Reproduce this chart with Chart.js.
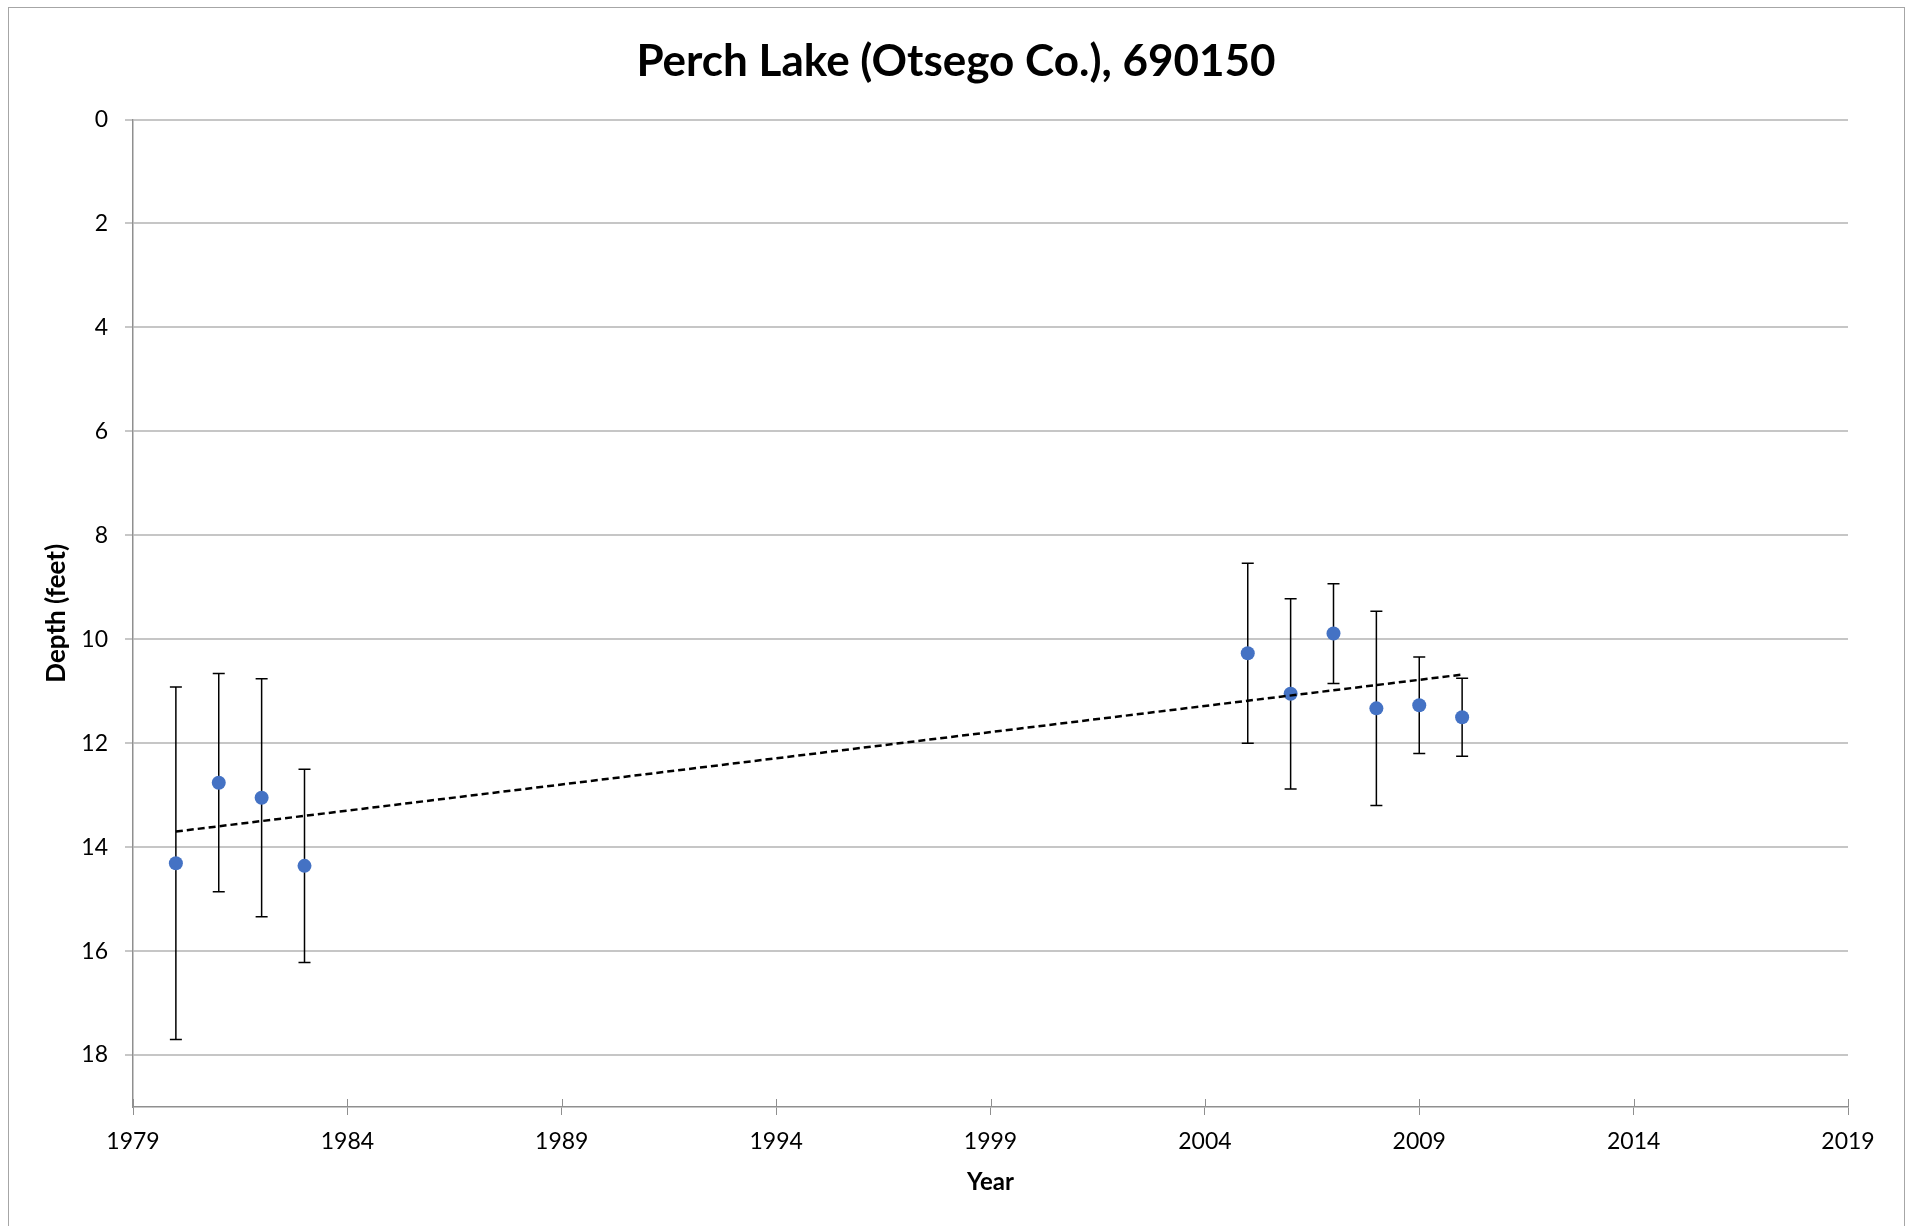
<!DOCTYPE html>
<html>
<head>
<meta charset="utf-8">
<title>Perch Lake (Otsego Co.), 690150</title>
<script src="https://cdn.jsdelivr.net/npm/chart.js@4/dist/chart.umd.min.js"></script>
<style>
  html, body { margin: 0; padding: 0; background: #ffffff; }
  #wrap { position: relative; width: 1912px; height: 1226px; }
</style>
</head>
<body>
<div id="wrap"><canvas id="c" width="1912" height="1226"></canvas></div>
<script>
// ---- data ----
const years = [1980, 1981, 1982, 1983, 2005, 2006, 2007, 2008, 2009, 2010];
const depthFeet = [14.31, 12.76, 13.05, 14.36, 10.27, 11.05, 9.89, 11.33, 11.27, 11.50];
const depthError = [3.39, 2.10, 2.29, 1.86, 1.73, 1.83, 0.96, 1.87, 0.93, 0.75];
const trendYears = [1980, 2010];
const trendDepth = [13.70, 10.68];
const xTickValues = [1979, 1984, 1989, 1994, 1999, 2004, 2009, 2014, 2019];
const yTickValues = [0, 2, 4, 6, 8, 10, 12, 14, 16, 18];
const chartTitle = 'Perch Lake (Otsego Co.), 690150';
const xAxisTitle = 'Year';
const yAxisTitle = 'Depth (feet)';

const FONT = 'Lato, "Open Sans", "Liberation Sans", sans-serif';
const AXIS_GRAY = '#8f8f8f';

const framePlugin = {
  id: 'frame',
  beforeDraw(chart) {
    const ctx = chart.ctx;
    ctx.save();
    ctx.fillStyle = '#ffffff';
    ctx.fillRect(0, 0, chart.width, chart.height);
    ctx.strokeStyle = '#a6a6a6';
    ctx.lineWidth = 1;
    ctx.strokeRect(8.5, 7.5, 1896, 1400);
    ctx.restore();
  }
};

const errorBarPlugin = {
  id: 'errorBars',
  beforeDatasetDraw(chart, args) {
    if (args.index !== 0) return;
    const ctx = chart.ctx;
    const xs = chart.scales.x, ys = chart.scales.y;
    ctx.save();
    ctx.strokeStyle = '#000000';
    ctx.lineWidth = 1.5;
    const cap = 6;
    years.forEach((yr, i) => {
      const px = xs.getPixelForValue(yr);
      const top = ys.getPixelForValue(depthFeet[i] - depthError[i]);
      const bot = ys.getPixelForValue(depthFeet[i] + depthError[i]);
      ctx.beginPath();
      ctx.moveTo(px, top); ctx.lineTo(px, bot);
      ctx.moveTo(px - cap, top); ctx.lineTo(px + cap, top);
      ctx.moveTo(px - cap, bot); ctx.lineTo(px + cap, bot);
      ctx.stroke();
    });
    ctx.restore();
  },
  afterDraw(chart) {
    // inner half of the crossing x-axis tick marks
    const ctx = chart.ctx;
    const xs = chart.scales.x;
    const b = chart.chartArea.bottom;
    ctx.save();
    ctx.strokeStyle = AXIS_GRAY;
    ctx.lineWidth = 1;
    xTickValues.forEach(v => {
      const px = Math.round(xs.getPixelForValue(v)) + 0.5;
      ctx.beginPath();
      ctx.moveTo(px, b - 8); ctx.lineTo(px, b);
      ctx.stroke();
    });
    ctx.restore();
  }
};

new Chart(document.getElementById('c'), {
  type: 'scatter',
  data: {
    datasets: [
      {
        label: 'Depth',
        data: years.map((yr, i) => ({ x: yr, y: depthFeet[i] })),
        backgroundColor: '#4472C4',
        borderColor: '#4472C4',
        borderWidth: 0,
        pointRadius: 7,
        pointHoverRadius: 7,
        order: 1
      },
      {
        label: 'Linear trend',
        type: 'line',
        data: trendYears.map((yr, i) => ({ x: yr, y: trendDepth[i] })),
        borderColor: '#000000',
        borderWidth: 2.5,
        borderDash: [7, 4],
        pointRadius: 0,
        fill: false,
        order: 0
      }
    ]
  },
  options: {
    responsive: false,
    animation: false,
    events: [],
    layout: { padding: { left: 32, right: 32, top: 0, bottom: 0 } },
    plugins: {
      legend: { display: false },
      tooltip: { enabled: false },
      title: {
        display: true,
        text: chartTitle,
        color: '#000000',
        font: { family: FONT, size: 44, weight: 'bold', lineHeight: 1.2 },
        padding: { top: 35, bottom: 31.7 }
      }
    },
    scales: {
      x: {
        type: 'linear',
        position: 'bottom',
        min: 1979,
        max: 2019,
        afterBuildTicks: s => { s.ticks = xTickValues.map(v => ({ value: v })); },
        afterFit: s => { s.height = 119; s.paddingRight = 64; },
        grid: { display: true, drawOnChartArea: false, drawTicks: true, tickLength: 8, color: AXIS_GRAY, lineWidth: 1 },
        border: { display: true, color: AXIS_GRAY, width: 1.5 },
        ticks: {
          color: '#000000',
          font: { family: FONT, size: 23 },
          padding: 13,
          maxRotation: 0,
          autoSkip: false,
          callback: v => String(v)
        },
        title: {
          display: true,
          text: xAxisTitle,
          color: '#000000',
          font: { family: FONT, size: 24, weight: 'bold', lineHeight: 1.2 },
          padding: { top: 0, bottom: 29 }
        }
      },
      y: {
        type: 'linear',
        position: 'left',
        reverse: true,
        min: 0,
        max: 19,
        afterBuildTicks: s => { s.ticks = yTickValues.map(v => ({ value: v })); },
        afterFit: s => { s.width = 101; },
        grid: { display: true, drawOnChartArea: true, color: '#c6c6c6', lineWidth: 2, tickColor: AXIS_GRAY, tickWidth: 1, tickLength: 8 },
        border: { display: true, color: AXIS_GRAY, width: 1.5 },
        ticks: {
          color: '#000000',
          font: { family: FONT, size: 23 },
          padding: 17,
          callback: v => String(v)
        },
        title: {
          display: true,
          text: yAxisTitle,
          color: '#000000',
          font: { family: FONT, size: 26, weight: 'bold', lineHeight: 1.2 },
          padding: { top: 9, bottom: 0 }
        }
      }
    }
  },
  plugins: [framePlugin, errorBarPlugin]
});
</script>
</body>
</html>
